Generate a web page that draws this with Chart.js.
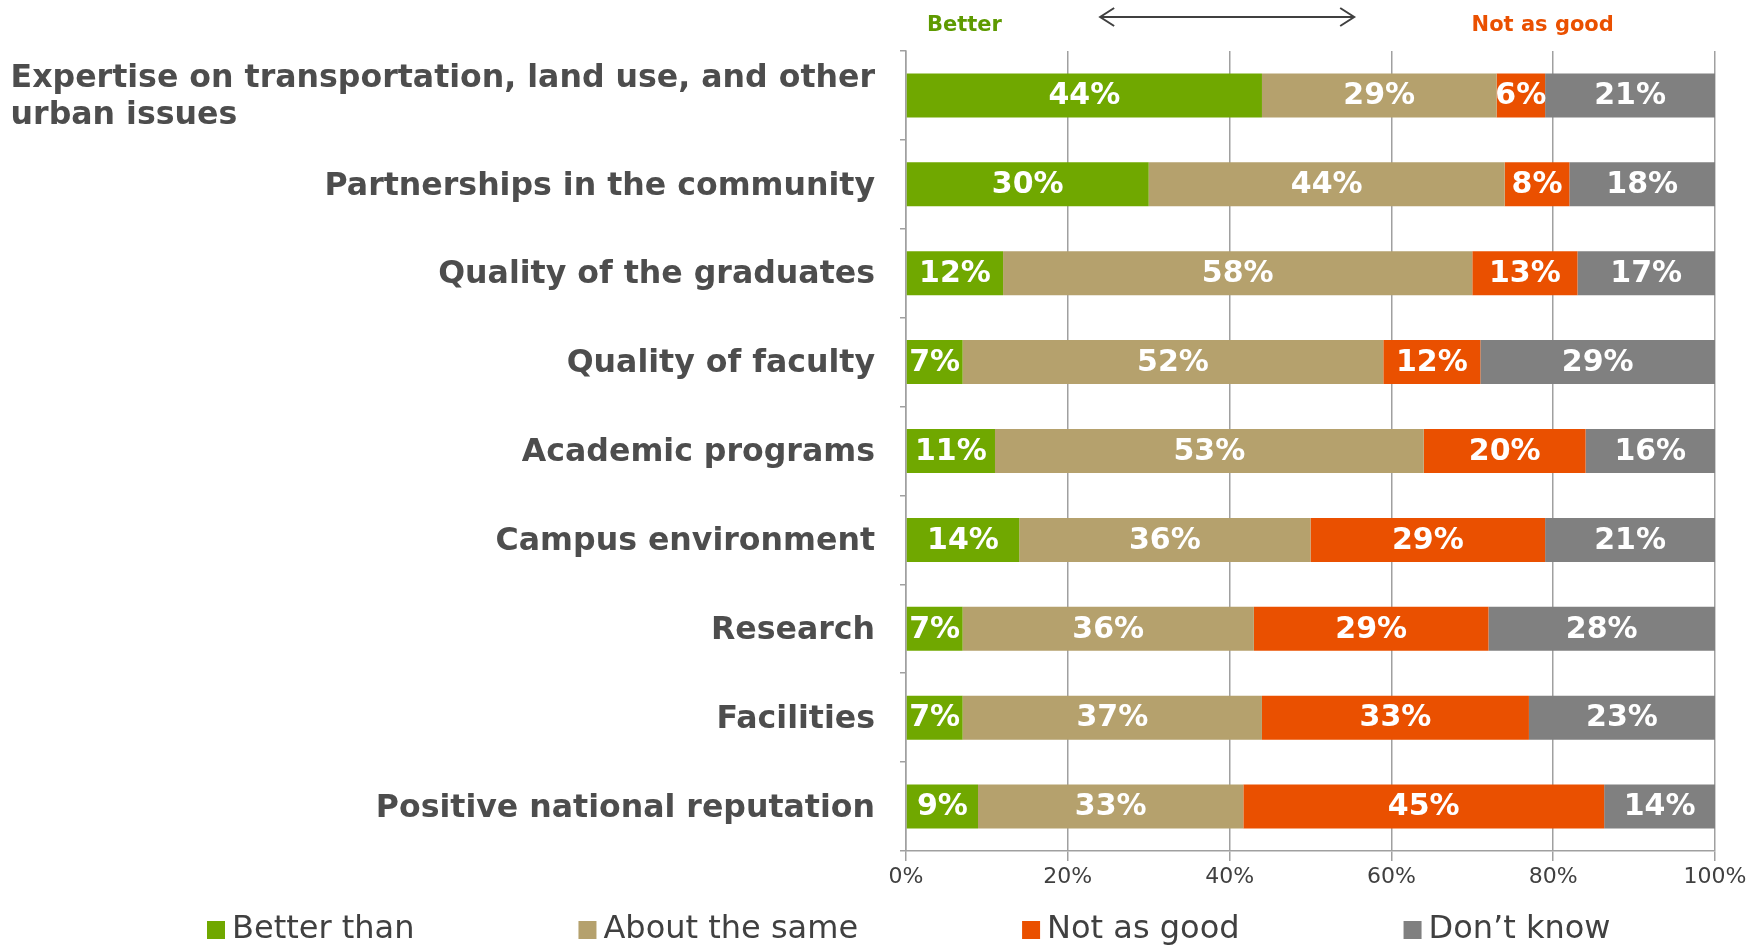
<!DOCTYPE html>
<html>
<head>
<meta charset="utf-8">
<script src="https://cdn.jsdelivr.net/npm/chart.js@4/dist/chart.umd.min.js"></script>
<style>
    html, body { margin: 0; padding: 0; background: #fff; }
    canvas { display: block; }
</style>
</head>
<body>
<canvas id="ratingChart" width="1762" height="945"></canvas>
<script>
// Chart data
const categories = [
    ['Expertise on transportation, land use, and other', 'urban issues'],
    'Partnerships in the community',
    'Quality of the graduates',
    'Quality of faculty',
    'Academic programs',
    'Campus environment',
    'Research',
    'Facilities',
    'Positive national reputation'
];
const seriesNames = ['Better than', 'About the same', 'Not as good', 'Don\u2019t know'];
const betterThan = [44, 30, 12, 7, 11, 14, 7, 7, 8.9];
const aboutSame = [29, 44, 58, 52, 53, 36, 36, 37, 32.8];
const notAsGood = [6, 8, 13, 12, 20, 29, 29, 33, 44.6];
const dontKnow = [21, 18, 17, 29, 16, 21, 28, 23, 13.7];
const xTicks = [0, 20, 40, 60, 80, 100];
const seriesColors = ['#70A800', '#B5A16D', '#EA5000', '#808080'];

const FONT = "'DejaVu Sans', Verdana, sans-serif";
const TEXT_COLOR = '#4D4D4D';
const LINE_COLOR = '#A0A0A0';

Chart.defaults.font.family = FONT;

// Category labels, value labels, legend and the top annotation
const overlayPlugin = {
    id: 'overlay',
    afterDatasetsDraw(chart) {
        const ctx = chart.ctx;
        ctx.save();
        ctx.font = 'bold 30px ' + FONT;
        ctx.fillStyle = '#fff';
        ctx.textAlign = 'center';
        ctx.textBaseline = 'middle';
        chart.data.datasets.forEach(function(ds, i) {
            chart.getDatasetMeta(i).data.forEach(function(bar, j) {
                const v = ds.data[j];
                if (!v) return;
                const left = Math.min(bar.x, bar.base);
                const right = Math.max(bar.x, bar.base);
                ctx.fillText(Math.round(v) + '%', (left + right) / 2, bar.y + 1);
            });
        });
        ctx.restore();
    },
    afterDraw(chart) {
        const ctx = chart.ctx;
        const yScale = chart.scales.y;
        const xScale = chart.scales.x;
        const area = chart.chartArea;

        // category labels: block right aligned, lines left aligned
        ctx.save();
        ctx.font = 'bold 31.6px ' + FONT;
        ctx.fillStyle = TEXT_COLOR;
        ctx.textBaseline = 'middle';
        ctx.textAlign = 'left';
        const rightEdge = area.left - 31;
        const lineHeight = 37;
        chart.data.labels.forEach(function(label, i) {
            const lines = Array.isArray(label) ? label : [label];
            const widths = lines.map(function(l) { return ctx.measureText(l).width; });
            const blockLeft = rightEdge - Math.max.apply(null, widths);
            const cy = yScale.getPixelForValue(i) + 2;
            lines.forEach(function(line, k) {
                const y = cy + (k - (lines.length - 1) / 2) * lineHeight;
                const x = lines.length > 1 ? blockLeft : rightEdge - widths[k];
                ctx.fillText(line, x, y);
            });
        });
        ctx.restore();

        // legend
        ctx.save();
        ctx.font = '32px ' + FONT;
        ctx.textBaseline = 'middle';
        ctx.textAlign = 'left';
        let lx = 207;
        const ly = 930;
        chart.data.datasets.forEach(function(ds) {
            ctx.fillStyle = ds.backgroundColor;
            ctx.fillRect(lx, ly - 9, 18, 18);
            ctx.fillStyle = '#404040';
            ctx.fillText(ds.label, lx + 25, ly);
            lx += 25 + ctx.measureText(ds.label).width + 164;
        });
        ctx.restore();

        // Better <-> Not as good
        ctx.save();
        ctx.font = 'bold 21px ' + FONT;
        ctx.textBaseline = 'middle';
        ctx.textAlign = 'left';
        ctx.fillStyle = '#5E9A00';
        ctx.fillText('Better', xScale.getPixelForValue(2.6), 26);
        ctx.textAlign = 'center';
        ctx.fillStyle = '#EA5000';
        ctx.fillText('Not as good', xScale.getPixelForValue(78.7), 26);

        const ax1 = xScale.getPixelForValue(24);
        const ax2 = xScale.getPixelForValue(55.4);
        const ay = 17;
        ctx.strokeStyle = '#404040';
        ctx.lineWidth = 2;
        ctx.beginPath();
        ctx.moveTo(ax1, ay);
        ctx.lineTo(ax2, ay);
        ctx.moveTo(ax1 + 14, ay - 9);
        ctx.lineTo(ax1, ay);
        ctx.lineTo(ax1 + 14, ay + 9);
        ctx.moveTo(ax2 - 14, ay - 9);
        ctx.lineTo(ax2, ay);
        ctx.lineTo(ax2 - 14, ay + 9);
        ctx.stroke();
        ctx.restore();
    }
};

const seriesValues = [betterThan, aboutSame, notAsGood, dontKnow];

const ctx = document.getElementById('ratingChart').getContext('2d');
const ratingChart = new Chart(ctx, {
    type: 'bar',
    data: {
        labels: categories,
        datasets: seriesNames.map(function(name, i) {
            return {
                label: name,
                data: seriesValues[i],
                backgroundColor: seriesColors[i],
                borderWidth: 0,
                categoryPercentage: 1,
                barPercentage: 0.495
            };
        })
    },
    options: {
        indexAxis: 'y',
        responsive: false,
        animation: false,
        devicePixelRatio: 1,
        layout: {
            padding: { top: 51, right: 47, bottom: 54, left: 0 }
        },
        plugins: {
            legend: { display: false },
            tooltip: { enabled: false }
        },
        scales: {
            x: {
                stacked: true,
                min: 0,
                max: 100,
                afterBuildTicks: function(scale) {
                    scale.ticks = xTicks.map(function(v) { return { value: v }; });
                },
                ticks: {
                    callback: function(value) { return value + '%'; },
                    color: '#404040',
                    font: { size: 22 },
                    padding: 3,
                    maxRotation: 0
                },
                grid: {
                    color: LINE_COLOR,
                    lineWidth: 1.5,
                    tickLength: 10
                },
                border: { color: LINE_COLOR, width: 1.5 },
                afterFit: function(scale) { scale.height = 40; }
            },
            y: {
                stacked: true,
                ticks: { display: false },
                grid: {
                    offset: true,
                    drawOnChartArea: false,
                    tickLength: 6,
                    color: LINE_COLOR,
                    lineWidth: 1.5
                },
                border: { color: LINE_COLOR, width: 1.5 },
                afterFit: function(scale) { scale.width = 906; }
            }
        }
    },
    plugins: [overlayPlugin]
});
</script>
</body>
</html>
